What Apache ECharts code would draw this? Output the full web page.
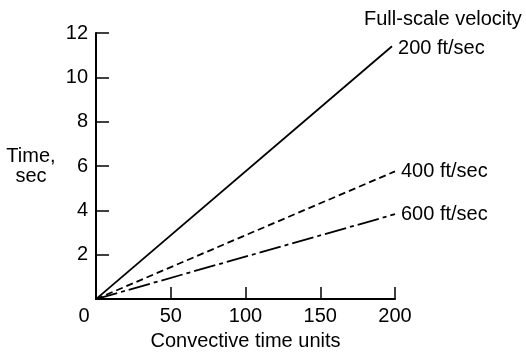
<!DOCTYPE html>
<html>
<head>
<meta charset="utf-8">
<script src="https://cdn.jsdelivr.net/npm/echarts@6/dist/echarts.min.js"></script>
<style>
  html, body { margin: 0; padding: 0; background: #fff; }
  #chart { width: 526px; height: 356px; }
</style>
</head>
<body>
<div id="chart"></div>
<script>
// Elapsed time versus convective time units for three full-scale velocities
const velocityNames = ['200 ft/sec', '400 ft/sec', '600 ft/sec'];
const convectiveUnits200 = [0, 198];
const timeSec200 = [0, 11.4];
const convectiveUnits400 = [0, 200];
const timeSec400 = [0, 5.76];
const convectiveUnits600 = [0, 200];
const timeSec600 = [0, 3.83];
const xTickValues = [0, 50, 100, 150, 200];
const yTickValues = [0, 2, 4, 6, 8, 10, 12];

const FONT = '"Liberation Sans", Arial, Helvetica, sans-serif';
const FS = 20;
const INK = '#000';

function pairs(xs, ys) {
  return xs.map((x, i) => [x, ys[i]]);
}

const lineStyles = [
  { type: 'solid' },
  { type: [7, 4] },
  { type: [22, 4, 4, 4] }
];

const seriesData = [
  pairs(convectiveUnits200, timeSec200),
  pairs(convectiveUnits400, timeSec400),
  pairs(convectiveUnits600, timeSec600)
];

const chart = echarts.init(document.getElementById('chart'), null, { renderer: 'canvas' });

chart.setOption({
  animation: false,
  backgroundColor: '#fff',
  grid: { left: 96, right: 131, top: 33, bottom: 53, containLabel: false },
  xAxis: {
    type: 'value',
    min: xTickValues[0],
    max: xTickValues[xTickValues.length - 1],
    interval: 50,
    name: 'Convective time units',
    nameLocation: 'middle',
    nameGap: 29,
    nameTextStyle: { color: INK, fontFamily: FONT, fontSize: FS },
    axisLine: { lineStyle: { color: INK, width: 2 } },
    axisTick: { inside: true, length: 12, lineStyle: { color: INK, width: 1.5 } },
    splitLine: { show: false },
    axisLabel: {
      color: INK, fontFamily: FONT, fontSize: FS, margin: 7,
      formatter: v => v === 0 ? '{zero|0}' : String(v),
      rich: { zero: { color: INK, fontFamily: FONT, fontSize: FS, padding: [0, 24, 0, 0] } }
    }
  },
  yAxis: {
    type: 'value',
    min: yTickValues[0],
    max: yTickValues[yTickValues.length - 1],
    interval: 2,
    name: 'Time,\nsec',
    nameLocation: 'middle',
    nameRotate: 0,
    nameGap: 65,
    nameTextStyle: { color: INK, fontFamily: FONT, fontSize: FS, align: 'center', lineHeight: 20 },
    axisLine: { lineStyle: { color: INK, width: 2 } },
    axisTick: { inside: true, length: 13, lineStyle: { color: INK, width: 1.5 } },
    splitLine: { show: false },
    axisLabel: {
      color: INK, fontFamily: FONT, fontSize: FS, margin: 8,
      formatter: v => v === 0 ? '' : String(v)
    }
  },
  graphic: [{
    type: 'text',
    left: 364,
    top: 9,
    style: { text: 'Full-scale velocity', fill: INK, font: FS + 'px ' + FONT }
  }],
  series: velocityNames.map((name, i) => ({
    name: name,
    type: 'line',
    data: seriesData[i],
    symbol: 'none',
    silent: true,
    lineStyle: Object.assign({ color: INK, width: 1.8 }, lineStyles[i]),
    endLabel: {
      show: true,
      formatter: '{a}',
      distance: 6,
      offset: i === 0 ? [0, 2] : [0, 0],
      color: INK,
      fontFamily: FONT,
      fontSize: FS
    }
  }))
});
</script>
</body>
</html>
